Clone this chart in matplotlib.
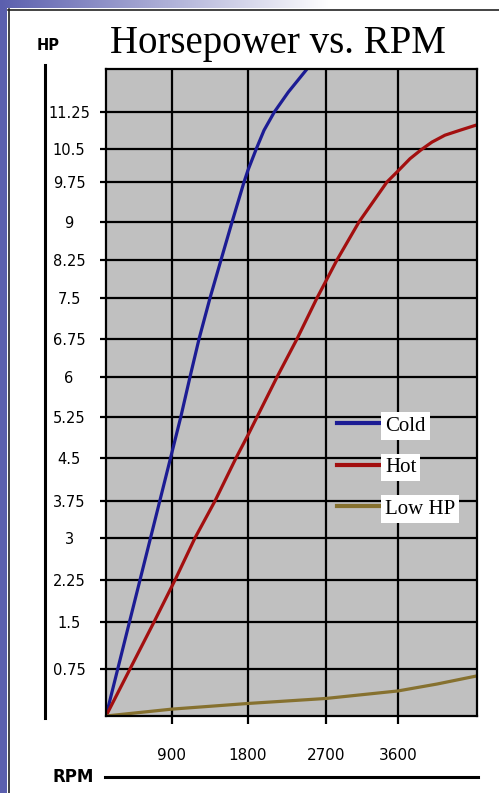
import numpy as np
import matplotlib
matplotlib.use("Agg")
import matplotlib.pyplot as plt
from matplotlib.lines import Line2D
from matplotlib.patches import Rectangle

# ---------------- data ----------------
rpm_cold = [0, 320, 607, 880, 1004, 1113, 1220, 1350, 1480, 1611, 1753, 1800, 1895, 1985, 2104, 2265, 2481]
hp_cold = [0, 1.5, 3.0, 4.5, 5.25, 6.0, 6.75, 7.5, 8.25, 9.0, 9.75, 10.02, 10.5, 10.88, 11.25, 11.62, 12.05]

rpm_hot = [0, 327, 655, 936, 1172, 1409, 1658, 1800, 2135, 2365, 2596, 2837, 3112, 3462,
           3600, 3737, 3862, 3987, 4135, 4306, 4500]
hp_hot = [0, 0.75, 1.5, 2.25, 3.0, 3.75, 4.5, 4.92, 6.0, 6.75, 7.5, 8.25, 9.0, 9.75,
          10.0, 10.28, 10.48, 10.64, 10.78, 10.88, 10.99]

rpm_low = [0, 900, 1800, 2700, 3600, 4044, 4500]
hp_low = [0, 0.11, 0.20, 0.28, 0.40, 0.51, 0.64]

series_labels = ["Cold", "Hot", "Low HP"]
series_colors = ["#1c1c94", "#a30f0f", "#86712f"]

x_ticks = [900, 1800, 2700, 3600]
x_tick_labels = ["900", "1800", "2700", "3600"]
y_ticks = [0.75, 1.5, 2.25, 3, 3.75, 4.5, 5.25, 6, 6.75, 7.5, 8.25, 9, 9.75, 10.5, 11.25]
y_tick_labels = ["0.75", "1.5", "2.25", "3", "3.75", "4.5", "5.25", "6", "6.75",
                 "7.5", "8.25", "9", "9.75", "10.5", "11.25"]
x_range = (0, 4500)
y_range = (0, 12.05)

# ---------------- layout (hand-drawn grid of the original) ----------------
W, H = 499, 793
AX_L, AX_R, AX_T, AX_B = 106, 477, 69, 716

# grid positions of the original (pixels) -> piecewise scale
grid_x_vals = [0, 900, 1800, 2700, 3600, 4500]
grid_x_pix = [106, 172, 248, 326, 398, 477]
grid_y_vals = [0, 0.75, 1.5, 2.25, 3, 3.75, 4.5, 5.25, 6, 6.75, 7.5, 8.25, 9, 9.75, 10.5, 11.25, 12.05]
grid_y_pix = [716, 669, 622, 580, 538, 501, 458, 417, 377, 339, 298, 260, 222, 182, 149, 112, 69]


def make_scale(vals, fracs):
    v = np.asarray(vals, float)
    f = np.asarray(fracs, float)
    lo = (f[1] - f[0]) / (v[1] - v[0])
    hi = (f[-1] - f[-2]) / (v[-1] - v[-2])
    big = (v[-1] - v[0]) * 10
    v2 = np.r_[v[0] - big, v, v[-1] + big]
    f2 = np.r_[f[0] - big * lo, f, f[-1] + big * hi]

    def fwd(x):
        return np.interp(x, v2, f2)

    def inv(y):
        return np.interp(y, f2, v2)
    return fwd, inv


x_fracs = [(p - AX_L) / (AX_R - AX_L) for p in grid_x_pix]
y_fracs = [(AX_B - p) / (AX_B - AX_T) for p in grid_y_pix]

fig = plt.figure(figsize=(W / 100, H / 100), dpi=100)
fig.patch.set_facecolor("white")

# slide decoration: left strip, top gradient, thin frame
fig.add_artist(Rectangle((0, 0), 7 / W, 1, transform=fig.transFigure,
                         facecolor="#5b5fae", edgecolor="none", zorder=0))
grad = np.ones((8, W, 3))
t = np.clip(np.arange(W) / 330.0, 0, 1)
base = np.array([91, 95, 174]) / 255.0
for c in range(3):
    grad[:, :, c] = base[c] * (1 - t) + 1.0 * t
fig.figimage(grad, xo=0, yo=H - 8, zorder=0)
fig.add_artist(Line2D([8.5 / W, 8.5 / W], [0, 1 - 9 / H], transform=fig.transFigure,
                      color="#222222", lw=1.2))
fig.add_artist(Line2D([8 / W, 1], [1 - 9.5 / H, 1 - 9.5 / H], transform=fig.transFigure,
                      color="#222222", lw=1.2))

ax = fig.add_axes([AX_L / W, (H - AX_B) / H, (AX_R - AX_L) / W, (AX_B - AX_T) / H])
ax.set_facecolor("#c0c0c0")
ax.set_xscale("function", functions=make_scale(grid_x_vals, x_fracs))
ax.set_yscale("function", functions=make_scale(grid_y_vals, y_fracs))

for xs, ys, col in zip([rpm_cold, rpm_hot, rpm_low], [hp_cold, hp_hot, hp_low], series_colors):
    ax.plot(xs, ys, color=col, lw=2.3, solid_capstyle="round", solid_joinstyle="round", zorder=3)

ax.set_xlim(*x_range)
ax.set_ylim(*y_range)
ax.set_xticks(x_ticks)
ax.set_xticklabels(x_tick_labels)
ax.set_yticks(y_ticks)
ax.set_yticklabels(y_tick_labels)
ax.minorticks_off()
ax.set_axisbelow(True)
ax.grid(True, color="black", lw=1.6)
for s in ax.spines.values():
    s.set_linewidth(1.6)
    s.set_color("black")
    s.set_zorder(4)

ax.tick_params(axis="x", direction="out", length=5.8, width=1.6, pad=17,
               labelsize=11, colors="black")
ax.tick_params(axis="y", direction="out", length=4.3, width=1.6, pad=22.3,
               labelsize=10.5, colors="black")
plt.setp(ax.get_yticklabels(), ha="center")
for lab in ax.get_xticklabels() + ax.get_yticklabels():
    lab.set_fontfamily("DejaVu Sans")

handles = [Line2D([], [], color=c, lw=3.0) for c in series_colors]
leg = ax.legend(handles, series_labels, loc="upper left",
                bbox_to_anchor=(337 / W, 1 - 416 / H), bbox_transform=fig.transFigure,
                frameon=False, borderpad=0, borderaxespad=0, handlelength=2.0,
                handletextpad=0.3, labelspacing=1.05,
                prop={"family": "Liberation Serif", "size": 15})
for txt in leg.get_texts():
    txt.set_bbox(dict(facecolor="white", edgecolor="none", pad=3))

# titles / axis names
fig.text(110 / W, 1 - 53 / H, "Horsepower vs. RPM", family="Liberation Serif",
         fontsize=28, va="baseline", ha="left", color="black")
fig.text(37 / W, 1 - 50 / H, "HP", family="DejaVu Sans", fontweight="bold",
         fontsize=10.5, va="baseline", ha="left")
fig.text(53 / W, 1 - 782 / H, "RPM", family="DejaVu Sans", fontweight="bold",
         fontsize=12, va="baseline", ha="left")

# plain axis rules of the slide
fig.add_artist(Line2D([45 / W, 45 / W], [1 - 65 / H, 1 - 718 / H], transform=fig.transFigure,
                      color="black", lw=2.2))
fig.add_artist(Line2D([105 / W, 478 / W], [1 - 777 / H, 1 - 777 / H], transform=fig.transFigure,
                      color="black", lw=2.2))

fig.savefig("out.png", dpi=100)
